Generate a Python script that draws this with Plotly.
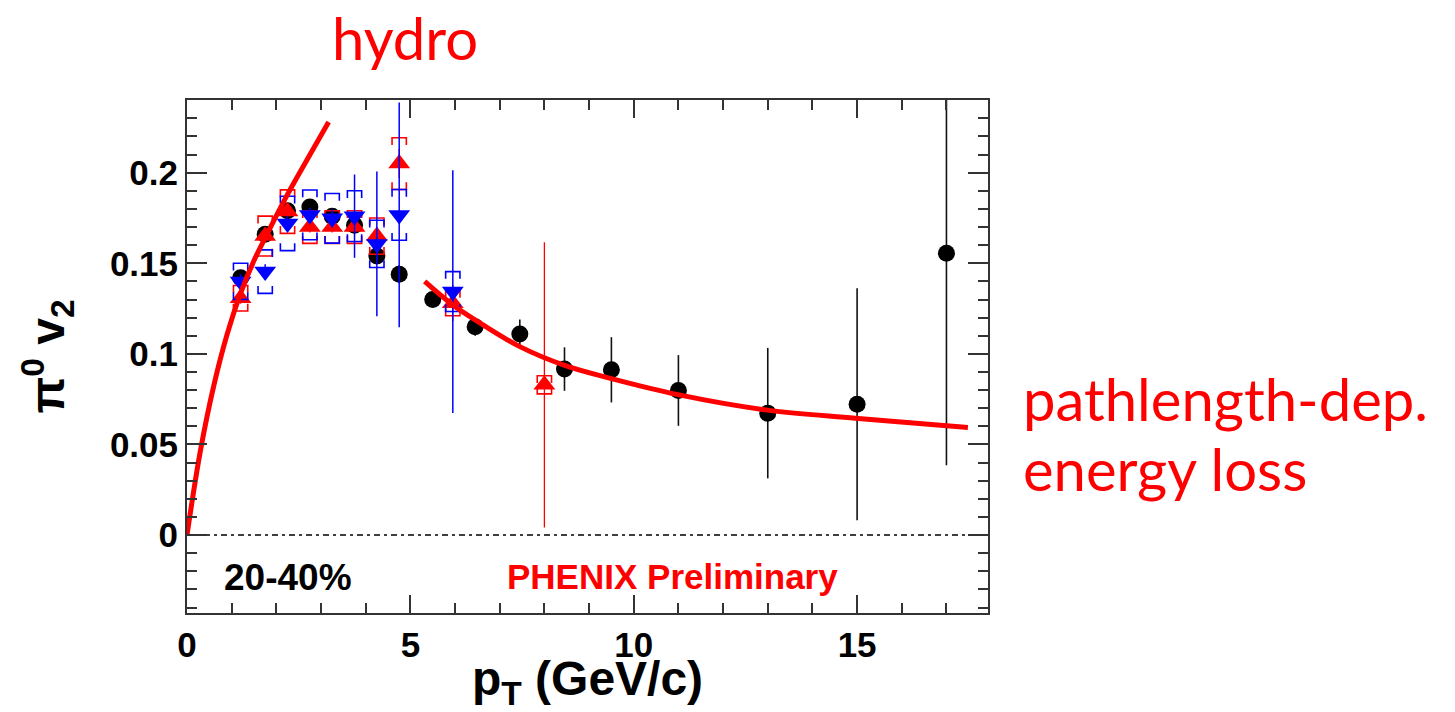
import plotly.graph_objects as go

# ---------------- data ----------------
# black circles
pt_black = [1.2, 1.75, 2.25, 2.75, 3.25, 3.75, 4.25, 4.75, 5.5, 6.45, 7.45, 8.45, 9.5, 11.0, 13.0, 15.0, 17.0]
v2_black = [0.142, 0.166, 0.179, 0.181, 0.176, 0.171, 0.154, 0.144, 0.130, 0.115, 0.111, 0.0916, 0.0912, 0.0798, 0.0673, 0.0722, 0.1555]
err_black = [0.003, 0.003, 0.003, 0.003, 0.003, 0.003, 0.004, 0.005, 0.004, 0.005, 0.008, 0.012, 0.018, 0.0195, 0.036, 0.064, 0.117]

# blue down-triangles
pt_blue = [1.2, 1.75, 2.25, 2.75, 3.25, 3.75, 4.25, 4.75, 5.95]
v2_blue = [0.140, 0.1454, 0.172, 0.1767, 0.1748, 0.176, 0.1607, 0.1767, 0.1344]
err_blue = [0.004, 0.004, 0.004, 0.004, 0.005, 0.023, 0.040, 0.062, 0.067]
sys_blue = [0.010, 0.012, 0.015, 0.0137, 0.0137, 0.014, 0.013, 0.014, 0.011]

# red up-triangles
pt_red = [1.2, 1.75, 2.25, 2.75, 3.25, 3.75, 4.25, 4.75, 5.95, 8.0]
v2_red = [0.1307, 0.165, 0.1785, 0.170, 0.170, 0.170, 0.165, 0.205, 0.128, 0.0829]
err_red = [0.003, 0.003, 0.003, 0.003, 0.003, 0.004, 0.005, 0.008, 0.010, 0.0787]
sys_red = [0.007, 0.011, 0.012, 0.009, 0.009, 0.009, 0.010, 0.0143, 0.007, 0.005]

# model curves
pt_hydro = [0.0, 0.3, 0.6, 0.9, 1.2, 1.5, 1.8, 2.2, 2.7, 3.17]
v2_hydro = [0.0, 0.0465, 0.0825, 0.111, 0.1335, 0.1515, 0.1665, 0.1857, 0.2077, 0.228]
pt_eloss = [5.32, 5.95, 6.5, 7.45, 8.47, 9.48, 10.99, 12.95, 14.96, 17.48]
v2_eloss = [0.140, 0.127, 0.118, 0.104, 0.0935, 0.0865, 0.0775, 0.0691, 0.0645, 0.0594]

x_range = [0, 17.93]
y_range = [-0.043, 0.2401]

RED = "#FF0000"
BLUE = "#0000FF"
FRAME = "#333333"
HELV = "Liberation Sans, Arial, sans-serif"


def brackets(xs, ys, sys, hw=0.16, leg=0.004):
    bx, by = [], []
    for x, y, s in zip(xs, ys, sys):
        top, bot = y + s, y - s
        bx += [x - hw, x - hw, x + hw, x + hw, None, x - hw, x - hw, x + hw, x + hw, None]
        by += [top - leg, top, top, top - leg, None, bot + leg, bot, bot, bot + leg, None]
    return bx, by


fig = go.Figure()

# black circles
fig.add_trace(go.Scatter(
    x=pt_black, y=v2_black, mode="markers",
    marker=dict(symbol="circle", size=17, color="black"),
    error_y=dict(type="data", array=err_black, color="#111111", thickness=1.6, width=0),
    showlegend=False))

# red systematics + points
rbx, rby = brackets(pt_red, v2_red, sys_red)
fig.add_trace(go.Scatter(x=rbx, y=rby, mode="lines", line=dict(color=RED, width=1.6),
                         showlegend=False, hoverinfo="skip"))
fig.add_trace(go.Scatter(
    x=pt_red, y=v2_red, mode="markers",
    marker=dict(symbol="triangle-up", size=19, color=RED),
    error_y=dict(type="data", array=err_red, color=RED, thickness=1.3, width=0),
    showlegend=False))

# blue systematics + points
bbx, bby = brackets(pt_blue, v2_blue, sys_blue)
fig.add_trace(go.Scatter(x=bbx, y=bby, mode="lines", line=dict(color=BLUE, width=1.6),
                         showlegend=False, hoverinfo="skip"))
fig.add_trace(go.Scatter(
    x=pt_blue, y=v2_blue, mode="markers",
    marker=dict(symbol="triangle-down", size=19, color=BLUE),
    error_y=dict(type="data", array=err_blue, color=BLUE, thickness=1.5, width=0),
    showlegend=False))

# model curves
fig.add_trace(go.Scatter(x=pt_hydro, y=v2_hydro, mode="lines",
                         line=dict(color=RED, width=5, shape="spline", smoothing=1.0), showlegend=False))
fig.add_trace(go.Scatter(x=pt_eloss, y=v2_eloss, mode="lines",
                         line=dict(color=RED, width=5, shape="spline", smoothing=1.0), showlegend=False))

# dashed zero line
fig.add_shape(type="line", xref="x", yref="y", x0=x_range[0], x1=x_range[1], y0=0, y1=0,
              line=dict(color="black", width=1.5, dash="6px,4px,3px,4px"), layer="below")

tickfont = dict(family=HELV, size=35, color="black", weight="bold")

fig.update_xaxes(
    range=x_range, tick0=0, dtick=5, ticks="inside", ticklen=18, tickwidth=2, tickcolor=FRAME,
    showline=True, linewidth=2, linecolor=FRAME, mirror="allticks",
    minor=dict(ticks="inside", dtick=1, tick0=0, ticklen=10, tickwidth=1.6, tickcolor=FRAME),
    showgrid=False, zeroline=False, tickfont=tickfont,
    title=dict(text="p<sub>T</sub> (GeV/c)",
               font=dict(family=HELV, size=48, color="black", weight="bold"),
               standoff=13))

fig.update_yaxes(
    range=y_range, tick0=0, dtick=0.05, ticks="inside", ticklen=20, tickwidth=2, tickcolor=FRAME,
    showline=True, linewidth=2, linecolor=FRAME, mirror="allticks",
    minor=dict(ticks="inside", dtick=0.01, tick0=0, ticklen=10, tickwidth=1.6, tickcolor=FRAME),
    showgrid=False, zeroline=False, tickfont=tickfont,
    title=dict(text="π<sup>0</sup> v<sub>2</sub>",
               font=dict(family=HELV, size=48, color="black", weight="bold"),
               standoff=30))

annot_font = "Lato, Carlito, Calibri, sans-serif"
fig.add_annotation(text="hydro", xref="paper", yref="paper", x=0.2718, y=1.1227,
                   xanchor="center", yanchor="middle", showarrow=False,
                   font=dict(family=annot_font, size=58, color=RED))
fig.add_annotation(text="pathlength-dep.", xref="paper", yref="paper", x=1.0408, y=0.4175,
                   xanchor="left", yanchor="middle", showarrow=False,
                   font=dict(family=annot_font, size=58, color=RED))
fig.add_annotation(text="energy loss", xref="paper", yref="paper", x=1.0408, y=0.281,
                   xanchor="left", yanchor="middle", showarrow=False,
                   font=dict(family=annot_font, size=58, color=RED))
fig.add_annotation(text="20-40%", xref="x", yref="y", x=0.78, y=-0.0236,
                   xanchor="left", yanchor="middle", showarrow=False,
                   font=dict(family=HELV, size=37, color="black", weight="bold"))
fig.add_annotation(text="PHENIX Preliminary", xref="x", yref="y", x=7.11, y=-0.023,
                   xanchor="left", yanchor="middle", showarrow=False,
                   font=dict(family=HELV, size=35, color=RED, weight="bold"))

fig.update_layout(
    width=1455, height=712,
    margin=dict(l=187, r=467, t=100, b=99, autoexpand=False),
    paper_bgcolor="white", plot_bgcolor="white",
    showlegend=False)

fig.write_html("out.html")
